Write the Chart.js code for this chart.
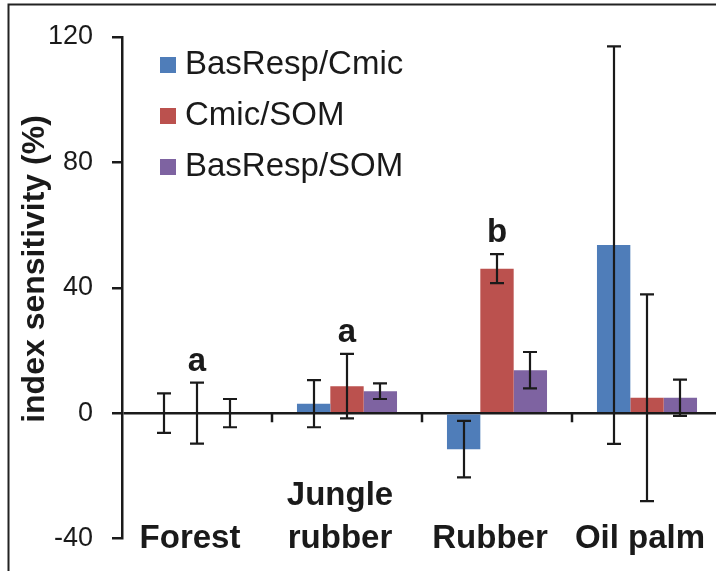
<!DOCTYPE html>
<html>
<head>
<meta charset="utf-8">
<title>Index sensitivity</title>
<script src="https://cdn.jsdelivr.net/npm/chart.js@4.4.0/dist/chart.umd.min.js"></script>
<style>
    html, body { margin: 0; padding: 0; background: #fff; overflow: hidden; }
    #sensitivityChart { display: block; }
</style>
</head>
<body>
<canvas id="sensitivityChart" width="722" height="571"></canvas>
<script>
// Land-use systems
const categories = ['Forest', 'Jungle rubber', 'Rubber', 'Oil palm'];
// Category labels as drawn (two lines, bottom aligned)
const categoryLines = [['', 'Forest'], ['Jungle', 'rubber'], ['', 'Rubber'], ['', 'Oil palm']];

// Index sensitivity (%) per system and its error
const basRespCmic = [0, 3.0, -11.5, 53.6];
const basRespCmicErr = [6.3, 7.5, 9.0, 63.4];
const cmicSom = [0, 8.6, 46.1, 4.9];
const cmicSomErr = [9.7, 10.3, 4.6, 33.0];
const basRespSom = [0, 7.0, 13.7, 4.9];
const basRespSomErr = [4.5, 2.5, 5.8, 5.8];

// Significance letters above the Cmic/SOM bars
const groupLetters = ['a', 'a', 'b', ''];

const yTicks = [-40, 0, 40, 80, 120];

const INK = '#1a1a1a';
const FONT = '"Liberation Sans", Arial, Helvetica, sans-serif';

document.addEventListener('DOMContentLoaded', function() {
    initChart();
});

function initChart() {
    const ctx = document.getElementById('sensitivityChart').getContext('2d');

    const errors = [basRespCmicErr, cmicSomErr, basRespSomErr];

    // Frame, axis marks, error bars, labels and legend
    const annotations = {
        id: 'annotations',
        beforeDraw(chart) {
            const c = chart.ctx;
            c.save();
            c.fillStyle = '#fff';
            c.fillRect(0, 0, chart.width, chart.height);
            c.strokeStyle = '#222';
            c.lineWidth = 2;
            c.beginPath();
            c.moveTo(8.5, chart.height);
            c.lineTo(8.5, 4.5);
            c.lineTo(chart.width, 4.5);
            c.stroke();
            c.restore();
        },
        afterDatasetsDraw(chart) {
            const c = chart.ctx;
            const xs = chart.scales.x;
            const ys = chart.scales.y;
            const area = chart.chartArea;
            const zeroY = ys.getPixelForValue(0);
            const catW = (area.right - area.left) / categories.length;

            c.save();
            c.strokeStyle = INK;
            c.fillStyle = INK;

            // tick marks between categories on the zero line
            c.lineWidth = 2.5;
            c.beginPath();
            for (let k = 1; k <= categories.length; k++) {
                const bx = Math.round(area.left + k * catW);
                c.moveTo(bx, zeroY);
                c.lineTo(bx, zeroY + 9);
            }
            c.stroke();

            // error bars
            c.lineWidth = 2.2;
            chart.data.datasets.forEach((ds, d) => {
                const meta = chart.getDatasetMeta(d);
                meta.data.forEach((bar, i) => {
                    const v = ds.data[i];
                    const e = errors[d][i];
                    const top = ys.getPixelForValue(v + e);
                    const bottom = ys.getPixelForValue(v - e);
                    const x = Math.round(bar.x);
                    c.beginPath();
                    c.moveTo(x, top);
                    c.lineTo(x, bottom);
                    c.moveTo(x - 7, top);
                    c.lineTo(x + 7, top);
                    c.moveTo(x - 7, bottom);
                    c.lineTo(x + 7, bottom);
                    c.stroke();
                });
            });

            // significance letters
            const redMeta = chart.getDatasetMeta(1);
            c.font = 'bold 33px ' + FONT;
            c.textAlign = 'center';
            c.textBaseline = 'alphabetic';
            groupLetters.forEach((letter, i) => {
                if (!letter) return;
                const top = ys.getPixelForValue(cmicSom[i] + cmicSomErr[i]);
                c.fillText(letter, redMeta.data[i].x, top - 12);
            });

            // category labels
            c.font = 'bold 33px ' + FONT;
            categoryLines.forEach((lines, i) => {
                const cx = xs.getPixelForValue(i) - 7;
                c.fillText(lines[0], cx, 505);
                c.fillText(lines[1], cx, 548);
            });

            // legend
            c.font = '33px ' + FONT;
            c.textAlign = 'left';
            c.textBaseline = 'middle';
            chart.data.datasets.forEach((ds, d) => {
                const rowY = 65 + d * 51;
                c.fillStyle = ds.backgroundColor;
                c.fillRect(160, rowY - 8, 16, 16);
                c.fillStyle = INK;
                c.fillText(ds.label, 185, rowY);
            });

            // y axis title
            c.save();
            c.translate(35, 269);
            c.rotate(-Math.PI / 2);
            c.font = 'bold 32px ' + FONT;
            c.textAlign = 'center';
            c.textBaseline = 'middle';
            c.fillText('index sensitivity (%)', 0, 0);
            c.restore();

            c.restore();
        }
    };

    new Chart(ctx, {
        type: 'bar',
        data: {
            labels: categories,
            datasets: [
                {
                    label: 'BasResp/Cmic',
                    data: basRespCmic,
                    backgroundColor: '#4f7db9'
                },
                {
                    label: 'Cmic/SOM',
                    data: cmicSom,
                    backgroundColor: '#bb514e'
                },
                {
                    label: 'BasResp/SOM',
                    data: basRespSom,
                    backgroundColor: '#7e63a1'
                }
            ]
        },
        options: {
            responsive: false,
            animation: false,
            devicePixelRatio: 1,
            layout: {
                padding: { top: 37, bottom: 14, left: 0, right: 0 }
            },
            datasets: {
                bar: {
                    categoryPercentage: 0.667,
                    barPercentage: 1.0,
                    borderWidth: 0
                }
            },
            plugins: {
                legend: { display: false },
                tooltip: { enabled: false }
            },
            scales: {
                x: {
                    display: false
                },
                y: {
                    min: -40,
                    max: 120,
                    afterFit: function(scale) {
                        scale.width = 122;
                    },
                    afterBuildTicks: function(scale) {
                        scale.ticks = yTicks.map(v => ({ value: v }));
                    },
                    border: {
                        display: true,
                        color: INK,
                        width: 2.5
                    },
                    grid: {
                        drawOnChartArea: true,
                        color: function(context) {
                            return context.tick && context.tick.value === 0 ? INK : 'rgba(0,0,0,0)';
                        },
                        lineWidth: 2.5,
                        tickColor: INK,
                        tickWidth: 2.5,
                        tickLength: 10
                    },
                    ticks: {
                        padding: 19,
                        color: INK,
                        font: { family: FONT, size: 27, lineHeight: 1 }
                    }
                }
            }
        },
        plugins: [annotations]
    });
}
</script>
</body>
</html>
